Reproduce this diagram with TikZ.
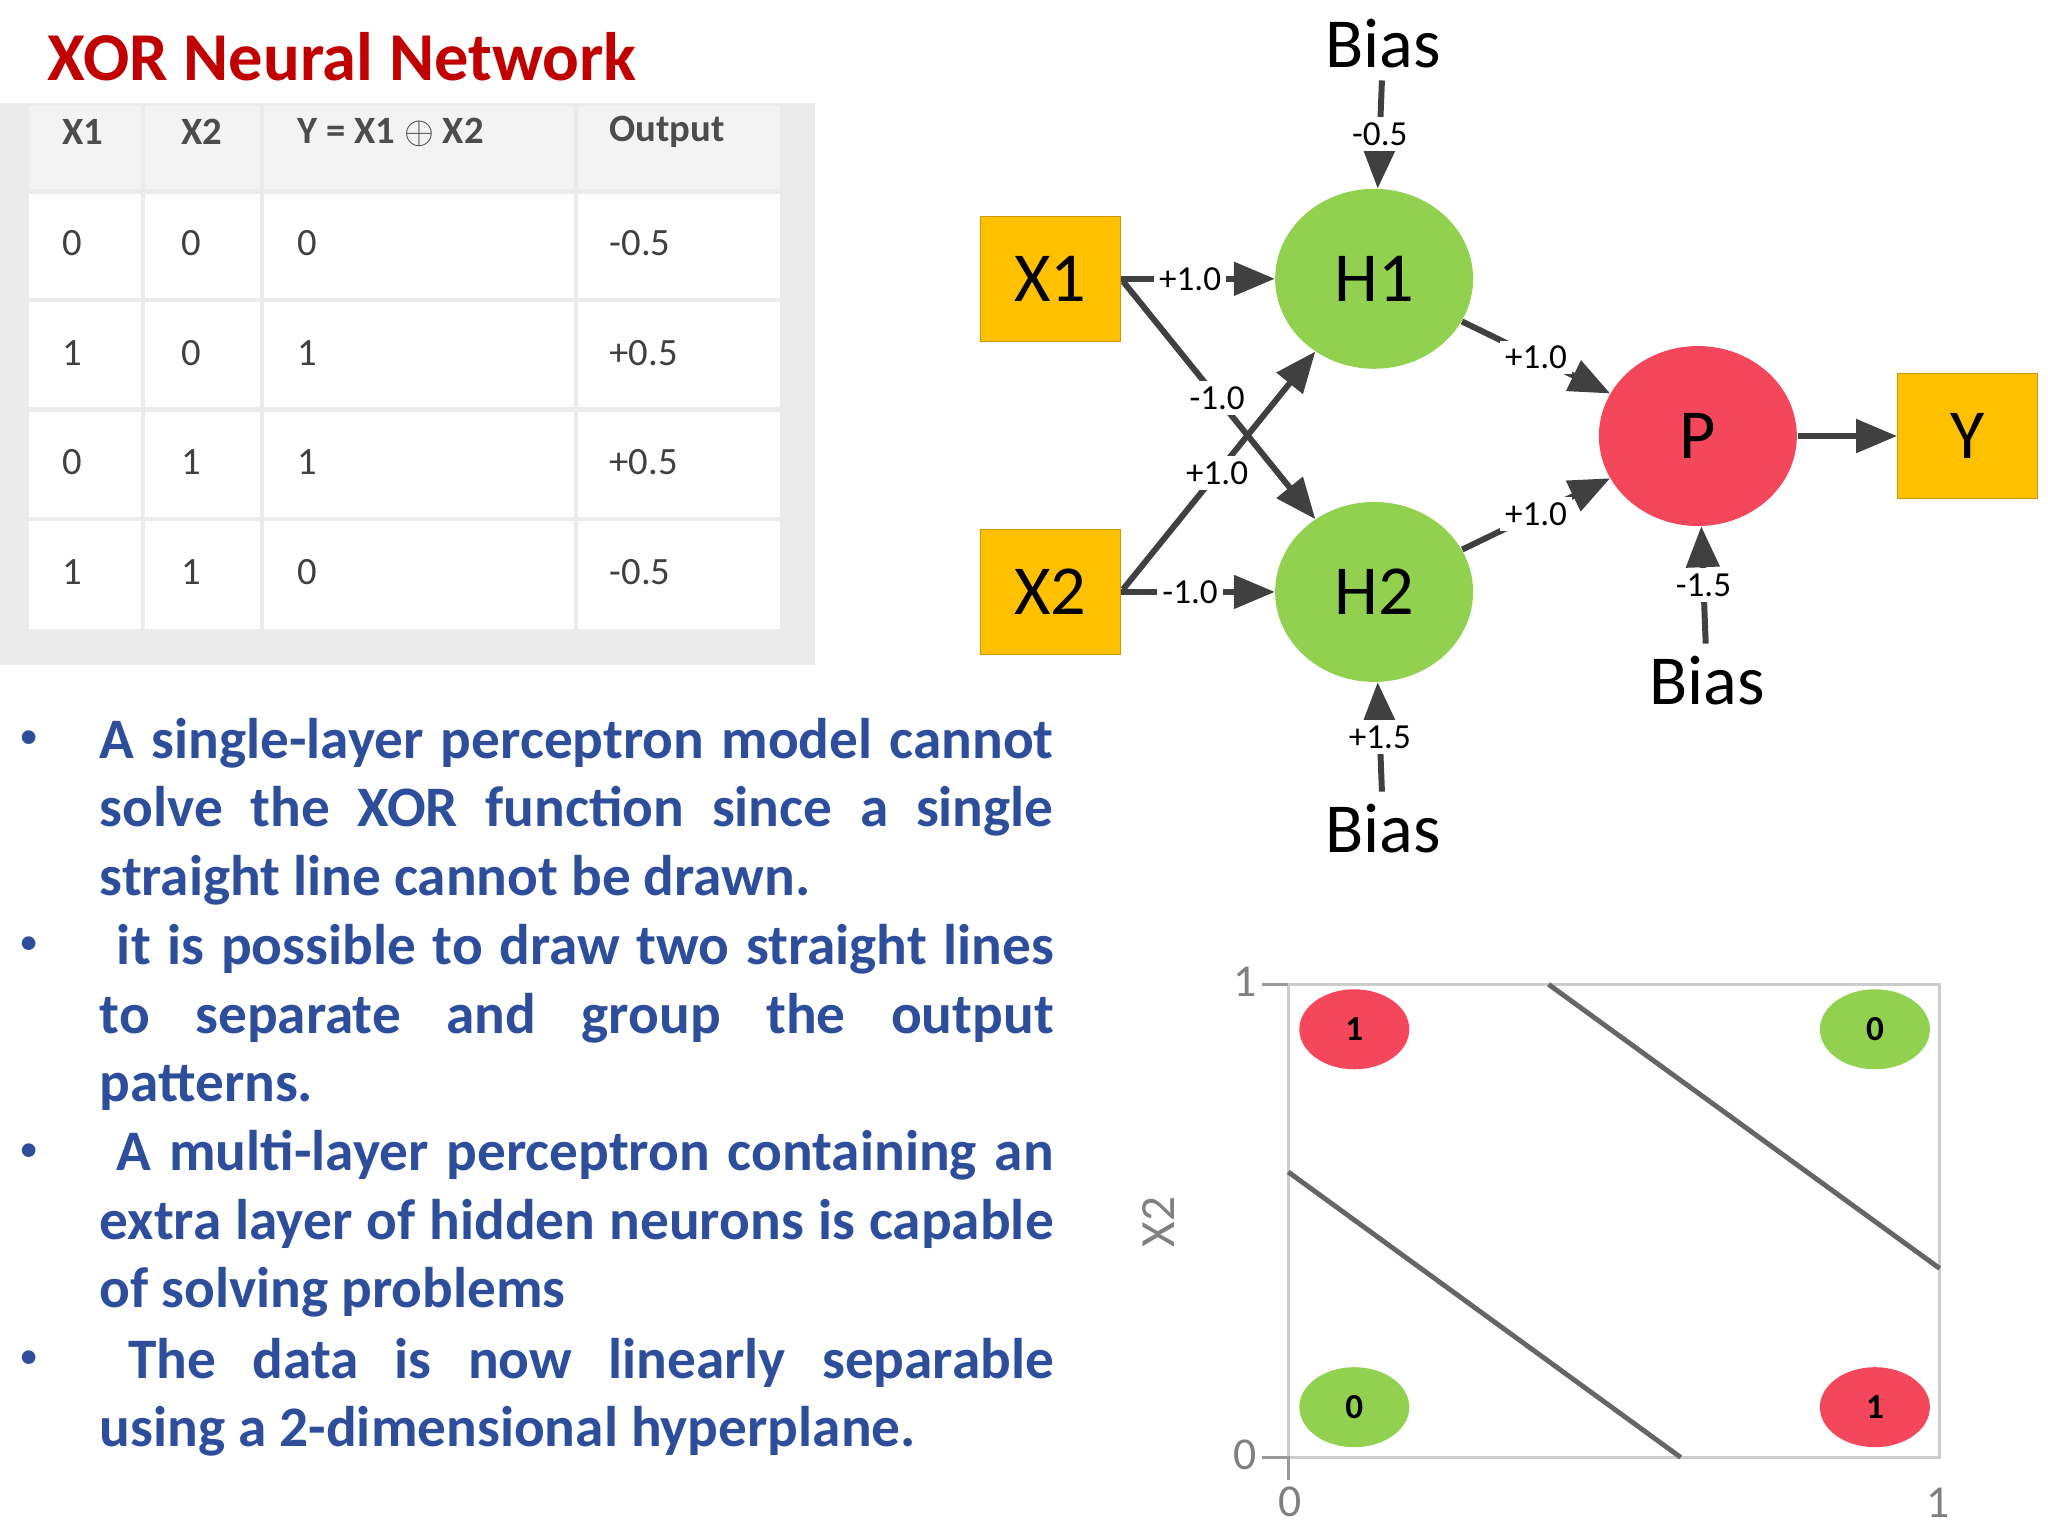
\documentclass[tikz,border=0pt]{standalone}
\usepackage{fontspec}
\setmainfont{Carlito}
\usetikzlibrary{arrows, shapes.geometric}
\definecolor{titlered}{HTML}{C00000}
\definecolor{bulletblue}{HTML}{2E4D9B}
\definecolor{boxorange}{HTML}{FFC000}
\definecolor{cellgreen}{HTML}{92D050}
\definecolor{cellred}{HTML}{F4475C}
\definecolor{edgegray}{HTML}{404040}
\definecolor{tablegray}{HTML}{EBEBEB}
\begin{document}
\begin{tikzpicture}[x = 0.013213cm, y = -0.013213cm,
	inbox/.style = {rectangle, draw = boxorange!80!black, line width = 0.4pt, fill = boxorange, minimum width = 1.4cm, minimum height = 1.25cm, font = \fontsize{20}{20}\selectfont},
	neuron/.style = {ellipse, fill = #1, minimum width = 1.98cm, minimum height = 1.8cm, font = \fontsize{20}{20}\selectfont},
	wlabel/.style = {fill = white, inner sep = 1.5pt, font = \fontsize{10}{10}\selectfont},
	link/.style = {draw = edgegray, line width = 1.7pt, -triangle 45},
	dot/.style = {ellipse, fill = #1, minimum width = 1.1cm, minimum height = 0.8cm, inner sep = 0pt, font = \bfseries\fontsize{10}{10}\selectfont},
	cell/.style = {anchor = west, text = black!75, font = \fontsize{11}{11}\selectfont},
	head/.style = {anchor = west, text = black!70, font = \bfseries\fontsize{11}{11}\selectfont},
	note/.style = {anchor = north west, inner sep = 0pt, text width = 9.54cm, align = justify, text = bulletblue, font = \bfseries\fontsize{16.3}{19.5}\selectfont}]

	\useasboundingbox (0, 0) rectangle (1550, 1162.5);

	\node (title) at (259, 43) [text = titlered, font = \bfseries\fontsize{19.5}{19.5}\selectfont] {XOR Neural Network};

	% truth table
	\fill[tablegray] (0, 78) rectangle (617, 503);
	\fill[white] (22, 145) rectangle (590, 476);
	\fill[tablegray!60] (22, 80) rectangle (590, 145);
	\foreach \ypos in {145, 227, 310, 393}
		\draw[tablegray, line width = 1.2pt] (22, \ypos) -- (590, \ypos);
	\foreach \xpos in {108, 198, 436}
		\draw[tablegray, line width = 1.2pt] (\xpos, 80) -- (\xpos, 476);
	\node (hX1) at (38, 100) [head] {X1};
	\node (hX2) at (128, 100) [head] {X2};
	\node (hY) at (216, 100) [head] {Y = X1 $\oplus$ X2};
	\node (hOut) at (452, 100) [head] {Output};
	\foreach \r/\ypos/\a/\b/\c/\o in {1/184/0/0/0/-0.5, 2/267/1/0/1/+0.5, 3/350/0/1/1/+0.5, 4/433/1/1/0/-0.5} {
		\node (a\r) at (38, \ypos) [cell] {\a};
		\node (b\r) at (128, \ypos) [cell] {\b};
		\node (c\r) at (216, \ypos) [cell] {\c};
		\node (o\r) at (452, \ypos) [cell] {\o};
	}

	% bullets
	\node (note1) at (75, 543) [note] {A single-layer perceptron model cannot\linebreak solve the XOR function since a single\linebreak straight line cannot be drawn.};
	\node (note2) at (75, 699) [note] {\hspace*{0.3em}it is possible to draw two straight lines\linebreak to separate and group the output\linebreak patterns.};
	\node (note3) at (75, 855) [note] {\hspace*{0.3em}A multi-layer perceptron containing an\linebreak extra layer of hidden neurons is capable\linebreak of solving problems};
	\node (note4) at (75, 1012) [note] {\hspace*{0.5em}The data is now linearly separable\linebreak using a 2-dimensional hyperplane.};
	\foreach \n/\ypos in {1/560, 2/716, 3/872, 4/1029}
		\node (bul\n) at (22, \ypos) [text = bulletblue, font = \fontsize{11}{11}\selectfont] {\textbullet};

	% network
	\node (X1) at (795, 211) [inbox] {X1};
	\node (X2) at (795, 448) [inbox] {X2};
	\node (H1) at (1040, 211) [neuron = cellgreen] {H1};
	\node (H2) at (1040, 448) [neuron = cellgreen] {H2};
	\node (P)  at (1285, 330) [neuron = cellred] {P};
	\node (Y)  at (1489, 330) [inbox] {Y};
	\node (B1) at (1047, 33) [font = \fontsize{20}{20}\selectfont] {Bias};
	\node (B2) at (1047, 627) [font = \fontsize{20}{20}\selectfont] {Bias};
	\node (B3) at (1292, 515) [font = \fontsize{20}{20}\selectfont] {Bias};
	\coordinate (X1a) at (850, 213);
	\coordinate (X2a) at (850, 446);

	\foreach \from/\w/\to/\pos in {X1/+1.0/H1/0.45, X2/-1.0/H2/0.45, X1a/-1.0/H2/0.49, X2a/+1.0/H1/0.49, H1/+1.0/P/0.5, H2/+1.0/P/0.5}
		\path (\from) edge [link] node[wlabel, pos = \pos] {\w} (\to);
	\path (P) edge [link] (Y);
	\foreach \from/\w/\to in {B1/-0.5/H1, B2/+1.5/H2, B3/-1.5/P}
		\path (\from) edge [link] node[wlabel] {\w} (\to);

	% separating plot
	\draw[black!20, line width = 0.8pt] (975, 745) rectangle (1468, 1103);
	\draw[black!40, line width = 0.8pt] (955, 745) -- (975, 745) (955, 1103) -- (975, 1103) -- (975, 1120);
	\draw[black!60, line width = 1.4pt] (1172, 745) -- (1468, 960);
	\draw[black!60, line width = 1.4pt] (975, 887) -- (1272, 1103);
	\node (t1) at (942, 743) [text = black!50, font = \fontsize{13}{13}\selectfont] {1};
	\node (t0) at (942, 1101) [text = black!50, font = \fontsize{13}{13}\selectfont] {0};
	\node (s0) at (976, 1137) [text = black!50, font = \fontsize{13}{13}\selectfont] {0};
	\node (s1) at (1467, 1137) [text = black!50, font = \fontsize{13}{13}\selectfont] {1};
	\node (ax) at (877, 925) [rotate = 90, text = black!50, font = \fontsize{14}{14}\selectfont] {X2};
	\node (p01) at (1025, 779) [dot = cellred] {1};
	\node (p11) at (1419, 779) [dot = cellgreen] {0};
	\node (p00) at (1025, 1065) [dot = cellgreen] {0};
	\node (p10) at (1419, 1065) [dot = cellred] {1};

\end{tikzpicture}
\end{document}
